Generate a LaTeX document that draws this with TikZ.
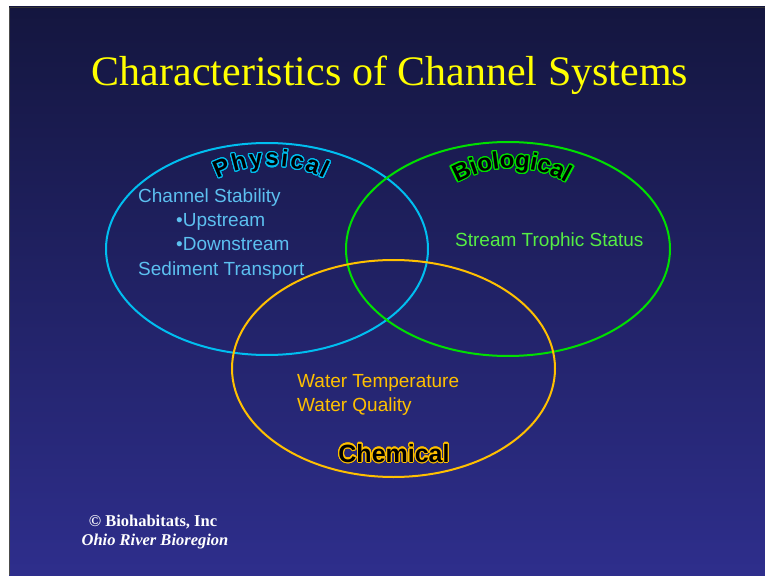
\documentclass[tikz,border=0pt]{standalone}
\usepackage{fontspec}
\setmainfont{Liberation Serif}
\newfontfamily\sansf{Liberation Sans}
\usepackage{contour}
\contourlength{1.1pt}
\contournumber{24}
\definecolor{bgtop}{HTML}{14163F}
\definecolor{bgbot}{HTML}{2E2E8C}
\definecolor{physcol}{HTML}{00BEF0}
\definecolor{biocol}{HTML}{00E000}
\definecolor{chemcol}{HTML}{FFC000}
\definecolor{phystxt}{HTML}{5CC0F0}
\definecolor{biotxt}{HTML}{55EE44}
\definecolor{chemtxt}{HTML}{FFC000}
\definecolor{titlecol}{HTML}{FFFF00}
\newcommand\archfont{\sansf\bfseries\fontsize{24}{24}\selectfont}
\tikzset{
  ring/.style={line width=2pt},
  body/.style={font=\sansf\fontsize{19}{24}\selectfont, anchor=base west, inner sep=0pt},
  titletext/.style={font=\fontsize{42}{46}\selectfont, text=titlecol, anchor=base, inner sep=0pt},
  credit/.style={font=\bfseries\fontsize{16.5}{19}\selectfont, text=white, anchor=base, inner sep=0pt},
  archletter/.style={font=\archfont, text=black, anchor=base, inner sep=0pt},
}
\begin{document}
\begin{tikzpicture}[x=1pt,y=-1pt]
\useasboundingbox (0,0) rectangle (765,577);
\fill[white] (0,0) rectangle (765,577);
\shade[top color=bgtop, bottom color=bgbot] (9,7) rectangle (765,575);
\draw[black!70, line width=1pt] (9.5,7) -- (9.5,575);
\draw[black!80, line width=0.8pt] (9,7.4) -- (765,7.4);

\node[titletext] (title) at (390,86) {Characteristics of Channel Systems};

% circles
\draw[ring, physcol] (267,249) ellipse [x radius=161, y radius=106];
\draw[ring, biocol] (508,249) ellipse [x radius=162, y radius=107];
\draw[ring, chemcol] (393.5,368.5) ellipse [x radius=161.5, y radius=108.5];

% arched label: Physical (circle centre 271,286, radius 120)
\foreach \l/\o [count=\k] in {P/-47.65, h/-30.3, y/-14.3, s/1.0, i/13.0, c/25.0, a/40.3, l/52.3}{
  \pgfmathsetmacro\ang{\o/120*57.2958}
  \node[archletter, rotate=-\ang] (phys\k) at ({271+120*sin(\ang)},{286-120*cos(\ang)}) {\contour{physcol}{\l}};
}
% arched label: Biological (circle centre 512,278, radius 110)
\foreach \l/\o [count=\k] in {B/-48.75, i/-36.75, o/-26.05, l/-15.35, o/-4.65, g/10.05, i/20.75, c/30.75, a/44.05, l/54.05}{
  \pgfmathsetmacro\ang{\o/110*57.2958}
  \node[archletter, rotate=-\ang] (bio\k) at ({512+110*sin(\ang)},{278-110*cos(\ang)}) {\contour{biocol}{\l}};
}
\node[archletter, font=\sansf\bfseries\fontsize{25}{25}\selectfont] (chemlabel) at (394,462) {\contour{chemcol}{Chemical}};

% physical text
\node[body, text=phystxt] (cs) at (138,203) {Channel Stability};
\node[body, text=phystxt] (up) at (176,227) {•Upstream};
\node[body, text=phystxt] (down) at (176,251) {•Downstream};
\node[body, text=phystxt] (sed) at (138,275) {Sediment Transport};

% biological text
\node[body, text=biotxt] (sts) at (455,247) {Stream Trophic Status};

% chemical text
\node[body, text=chemtxt] (wt) at (297,387) {Water Temperature};
\node[body, text=chemtxt] (wq) at (297,411) {Water Quality};

% credits
\node[credit] (c1) at (153,526) {© Biohabitats, Inc};
\node[credit, font=\bfseries\itshape\fontsize{16.5}{19}\selectfont] (c2) at (155,545) {Ohio River Bioregion};
\end{tikzpicture}
\end{document}
